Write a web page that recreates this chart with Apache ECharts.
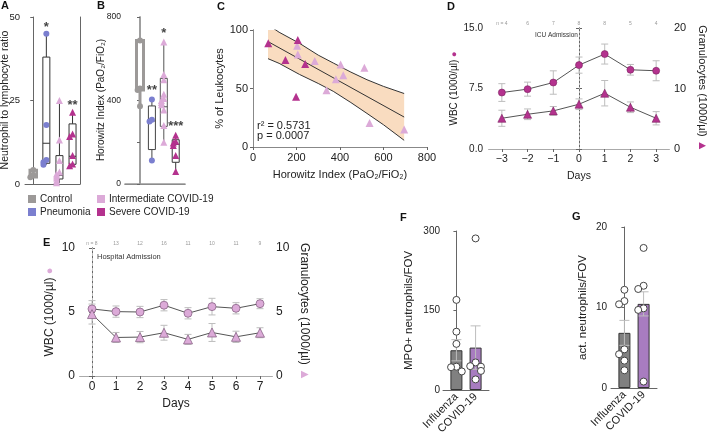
<!DOCTYPE html>
<html><head><meta charset="utf-8">
<script src="https://cdn.jsdelivr.net/npm/echarts@6/dist/echarts.min.js"></script>
<style>html,body{margin:0;padding:0;background:#fff}#c{width:709px;height:438px}</style>
</head><body><div id="c"></div>
<script>
// ================= DATA =================
const groupsAB = ['Control', 'Pneumonia', 'Intermediate COVID-19', 'Severe COVID-19'];
// Panel A: neutrophil to lymphocyte ratio
const nlrControl = [4.2, 2.7, 2.0];
const nlrPneumonia = [45, 17.7, 7.2, 6.5, 5.8];
const nlrIntermediate = [25, 13.2, 7, 3.6, 3.0, 2.4, 1.8, 1.0, 0.4];
const nlrSevere = [21.5, 15, 14.2, 8.5, 6, 5.5];
const nlrBoxes = [[2.0, 2.0, 2.7, 4.2, 4.2], [5.8, 6.2, 12.2, 38, 45], [0.4, 1.5, 2.6, 8.5, 25], [5.5, 5.9, 8.3, 18, 21.5]];
const nlrStars = ['', '*', '', '**'];
// Panel B: Horowitz index
const hiControl = [688, 458, 450, 373];
const hiPneumonia = [405, 308, 300, 112];
const hiIntermediate = [680, 525, 500, 430, 410, 400, 390, 380, 355, 280, 200];
const hiSevere = [233, 205, 196, 185, 137, 60];
const hiBoxes = [[373, 450, 460, 688, 688], [112, 165, 302, 374, 405], [200, 276, 370, 506, 680], [60, 104, 190, 212, 233]];
const hiStars = ['', '**', '*', '***'];
// Panel C: % of leukocytes vs Horowitz index
const cSevere = [[70, 88.6], [206, 91.4], [149, 74.3], [240, 70.9], [198, 42.9]];
const cIntermediate = [[203, 86.6], [206, 79.1], [284, 73.4], [403, 70.6], [512, 67.7], [415, 61.4], [381, 58], [338, 48.6], [536, 20.6], [695, 14.9]];
const cFitX = [69, 695];
const cFitY = [90.1, 25.6];
const cBandX = [69, 120, 214, 300, 369, 450, 524, 600, 695];
const cBandUpper = [104.5, 98.1, 88.6, 78.5, 71.8, 64, 57.5, 51.8, 45.7];
const cBandLower = [75.5, 71.5, 62, 54.3, 47.6, 38, 28.7, 19, 5.7];
const cStats = ['r\u00b2 = 0.5731', 'p = 0.0007'];
// Panel D: ICU admission
const dDays = [-3, -2, -1, 0, 1, 2, 3];
const dWBC = [7.0, 7.42, 8.24, 10.4, 11.77, 9.82, 9.7];
const dWBCerr = [1.1, 0.87, 1.45, 1.0, 1.24, 0.66, 1.24];
const dGran = [5.08, 5.74, 6.3, 7.4, 9.22, 6.9, 5.08];
const dGranErr = [1.33, 0.88, 0.72, 0.88, 2.1, 0.88, 1.1];
const dN = ['n = 4', '6', '7', '8', '8', '5', '4'];
// Panel E: hospital admission
const eDays = [0, 1, 2, 3, 4, 5, 6, 7];
const eWBC = [5.24, 5.03, 5.0, 5.53, 4.9, 5.42, 5.29, 5.65];
const eWBCerr = [0.65, 0.44, 0.44, 0.44, 0.44, 0.65, 0.44, 0.39];
const eGran = [4.84, 3.01, 3.04, 3.38, 2.86, 3.4, 3.06, 3.38];
const eGranErr = [0.78, 0.39, 0.44, 0.58, 0.39, 0.7, 0.44, 0.39];
const eN = ['n = 8', '13', '12', '16', '11', '10', '11', '9'];
// Panels F, G
const fgGroups = ['Influenza', 'COVID-19'];
const fMeans = [75, 80];
const fSem = [20, 41];
const fInfluenza = [170, 110, 87, 44, 43, 35];
const fCovid = [286, 52, 45, 44, 36, 20];
const gMeans = [6.85, 10.45];
const gSem = [1.55, 1.5];
const gInfluenza = [12.2, 10.8, 10.4, 4.8, 4.2, 3.4, 2.2];
const gCovid = [17.4, 12.7, 12.3, 9.9, 9.7, 0.8];

// ================= STYLE =================
const FONT = "'Liberation Sans', Arial, Helvetica, sans-serif";
const C_CTRL = '#9c9998', C_PNEU = '#7b7fcf', C_INT = '#dcaad8', C_SEV = '#b4328e';
const C_FLU = '#808080', C_COV = '#a87cc0';
const AX = '#666', TX = '#222', ERR = '#bdbdbd';
const groupColors = [C_CTRL, C_PNEU, C_INT, C_SEV];
const A_XMIN = -0.63, A_XMAX = 3.57, B_XMIN = -1.26, B_XMAX = 3.78;

function jitter(vals, thr, step) {
  const pat = [0, -1, 1, -2, 2, -3, 3];
  return vals.map((v, i) => {
    let k = 0;
    for (let j = 0; j < i; j++) if (Math.abs(vals[j] - v) < thr) k++;
    return pat[k % pat.length] * step;
  });
}
function pointSeries(xi, yi, gi, vals, symbol, color, size, thr, step, border) {
  const off = jitter(vals, thr, step);
  return {
    type: 'scatter', xAxisIndex: xi, yAxisIndex: yi, z: 5, silent: true,
    symbol: symbol, symbolSize: size,
    itemStyle: { color: color, borderColor: border || color, borderWidth: border ? 1 : 0, opacity: 1 },
    data: vals.map((v, i) => [gi + off[i], v])
  };
}
function boxSeries(xi, yi, boxes, strokes, lws, w) {
  return {
    type: 'custom', xAxisIndex: xi, yAxisIndex: yi, z: 2, silent: true,
    data: boxes.map((b, i) => [i].concat(b)),
    renderItem: (p, api) => {
      const i = p.dataIndex, x = api.value(0);
      const pt = k => api.coord([x, api.value(k)]);
      const mn = pt(1), q1 = pt(2), md = pt(3), q3 = pt(4), mx = pt(5);
      const hw = w / 2, st = { stroke: strokes[i], lineWidth: lws[i], fill: null };
      return { type: 'group', children: [
        { type: 'line', shape: { x1: md[0], y1: mx[1], x2: md[0], y2: q3[1] }, style: st },
        { type: 'line', shape: { x1: md[0], y1: q1[1], x2: md[0], y2: mn[1] }, style: st },
        { type: 'rect', shape: { x: md[0] - hw, y: q3[1], width: 2 * hw, height: q1[1] - q3[1] }, style: Object.assign({}, st, { fill: '#fff' }) },
        { type: 'line', shape: { x1: md[0] - hw, y1: md[1], x2: md[0] + hw, y2: md[1] }, style: st }
      ] };
    }
  };
}
function starSeries(xi, yi, boxes, stars, dist) {
  const idx = stars.map((s, i) => i).filter(i => stars[i]);
  return {
    type: 'scatter', xAxisIndex: xi, yAxisIndex: yi, z: 6, silent: true, symbolSize: 0.1,
    itemStyle: { color: 'rgba(0,0,0,0)' },
    label: { show: true, position: 'top', distance: dist, formatter: p => stars[idx[p.dataIndex]], color: '#111', fontSize: 13, fontFamily: FONT, fontWeight: 'bold' },
    data: idx.map(i => [i, boxes[i][4]])
  };
}
function errSeries(xi, yi, xs, ys, es, color, cap, z) {
  return {
    type: 'custom', xAxisIndex: xi, yAxisIndex: yi, z: z || 3, silent: true,
    data: xs.map((x, i) => [x, ys[i], es[i]]),
    renderItem: (p, api) => {
      const x = api.value(0), y = api.value(1), e = api.value(2);
      const t = api.coord([x, y + e]), b = api.coord([x, y - e]);
      const st = { stroke: color, lineWidth: 1 };
      return { type: 'group', children: [
        { type: 'line', shape: { x1: t[0], y1: t[1], x2: b[0], y2: b[1] }, style: st },
        { type: 'line', shape: { x1: t[0] - cap, y1: t[1], x2: t[0] + cap, y2: t[1] }, style: st },
        { type: 'line', shape: { x1: b[0] - cap, y1: b[1], x2: b[0] + cap, y2: b[1] }, style: st }
      ] };
    }
  };
}
const lbl = (size, margin) => ({ color: TX, fontSize: size || 11, fontFamily: FONT, margin: margin == null ? 6 : margin });
const line = { show: true, lineStyle: { color: AX, width: 1 } };
const tick = { show: true, length: 3, lineStyle: { color: AX } };
function frameAxis(extra) {
  return Object.assign({ type: 'value', axisLine: line, axisTick: { show: false }, axisLabel: { show: false }, splitLine: { show: false } }, extra);
}
function nameStyle(size) { return { color: TX, fontSize: size, fontFamily: FONT }; }

// ================= GRIDS =================
const grid = [
  { left: 25, top: 17, width: 55, height: 167 },   // A
  { left: 125, top: 17, width: 60, height: 167 },  // B
  { left: 253, top: 30, width: 174, height: 117 }, // C
  { left: 489, top: 28, width: 181, height: 121 }, // D
  { left: 80, top: 248, width: 192, height: 128 }, // E
  { left: 443, top: 231, width: 46, height: 159 }, // F
  { left: 611, top: 227, width: 46, height: 161 }  // G
];

const xAxis = [
  frameAxis({ gridIndex: 0, min: A_XMIN, max: A_XMAX }),                               // 0 A
  frameAxis({ gridIndex: 1, min: B_XMIN, max: B_XMAX }),                               // 1 B
  { type: 'value', gridIndex: 2, min: 0, max: 800, interval: 200, axisLine: line, axisTick: tick, axisLabel: lbl(11, 5), splitLine: { show: false },
    name: 'Horowitz Index (PaO\u2082/FiO\u2082)', nameLocation: 'middle', nameGap: 22, nameTextStyle: nameStyle(11) }, // 2 C
  { type: 'value', gridIndex: 3, min: -3.5, max: 3.5, axisLine: line,
    axisTick: Object.assign({}, tick, { customValues: dDays }),
    axisLabel: Object.assign(lbl(10.5, 5), { customValues: dDays, formatter: v => (v < 0 ? '\u2212' + (-v) : '' + v) }),
    splitLine: { show: false }, name: 'Days', nameLocation: 'middle', nameGap: 22, nameTextStyle: nameStyle(10.5) }, // 3 D
  frameAxis({ gridIndex: 3, position: 'top', min: -3.5, max: 3.5, axisLine: { show: true, lineStyle: { color: '#aaa' } },
    axisLabel: { show: true, customValues: dDays, formatter: v => dN[dDays.indexOf(Math.round(v))], fontSize: 5, color: '#999', margin: 2, fontFamily: FONT } }), // 4 D top
  { type: 'value', gridIndex: 4, min: -0.5, max: 7.5, axisLine: line,
    axisTick: Object.assign({}, tick, { customValues: eDays }),
    axisLabel: Object.assign(lbl(12, 5), { customValues: eDays }),
    splitLine: { show: false }, name: 'Days', nameLocation: 'middle', nameGap: 22, nameTextStyle: nameStyle(12) }, // 5 E
  frameAxis({ gridIndex: 4, position: 'top', min: -0.5, max: 7.5, axisLine: { show: true, lineStyle: { color: '#aaa' } },
    axisLabel: { show: true, customValues: eDays, formatter: v => eN[eDays.indexOf(Math.round(v))], fontSize: 5, color: '#999', margin: 2, fontFamily: FONT } }), // 6 E top
  frameAxis({ gridIndex: 5, min: -0.7, max: 1.7, axisLabel: Object.assign(lbl(11, 5), { show: true, customValues: [0, 1], rotate: 45, formatter: v => fgGroups[Math.round(v)] }) }), // 7 F
  frameAxis({ gridIndex: 6, min: -0.7, max: 1.7, axisLabel: Object.assign(lbl(11, 5), { show: true, customValues: [0, 1], rotate: 45, formatter: v => fgGroups[Math.round(v)] }) }), // 8 G
  frameAxis({ gridIndex: 2, position: 'top', min: 0, max: 800, axisLine: { show: true, lineStyle: { color: '#888' } } }), // 9 C top
  frameAxis({ gridIndex: 1, position: 'top', min: B_XMIN, max: B_XMAX, axisLine: { show: true, lineStyle: { color: '#999', width: 1.5 } } }) // 10 B top
];

const yAxis = [
  { type: 'value', gridIndex: 0, min: 0, max: 50, interval: 25, axisLine: line, axisTick: tick,
    axisLabel: Object.assign(lbl(9.5, 5), { showMinLabel: true, showMaxLabel: true, hideOverlap: false }), splitLine: { show: false } }, // 0
  frameAxis({ gridIndex: 0, position: 'right', min: 0, max: 50 }), // 1
  { type: 'value', gridIndex: 1, min: 0, max: 800, interval: 400, axisLine: { show: true, lineStyle: { color: '#999', width: 1.5 } }, axisTick: tick,
    minorTick: { show: true, splitNumber: 2, length: 3, lineStyle: { color: AX } },
    axisLabel: Object.assign(lbl(8.5, 4), { showMinLabel: true, showMaxLabel: true, hideOverlap: false }), splitLine: { show: false } }, // 2
  frameAxis({ gridIndex: 1, position: 'right', min: 0, max: 800, axisLine: { show: true, lineStyle: { color: '#999', width: 1.5 } } }), // 3
  { type: 'value', gridIndex: 2, min: 0, max: 100, interval: 50, axisLine: line, axisTick: tick, axisLabel: lbl(11, 5), splitLine: { show: false },
    name: '% of Leukocytes', nameLocation: 'middle', nameGap: 27, nameTextStyle: nameStyle(11) }, // 4
  frameAxis({ gridIndex: 2, position: 'right', min: 0, max: 100, axisLine: { show: true, lineStyle: { color: '#888' } } }), // 5
  { type: 'value', gridIndex: 3, min: 0, max: 15, interval: 7.5, axisLine: line, axisTick: tick,
    axisLabel: Object.assign(lbl(10, 6), { formatter: v => v.toFixed(1) }), splitLine: { show: false },
    name: '{a|WBC (1000/\u00b5l)} {m|\u25cf}', nameLocation: 'middle', nameGap: 26, nameRotate: 90,
    nameTextStyle: { color: TX, fontSize: 10, fontFamily: FONT, rich: { a: { fontSize: 10, fontFamily: FONT, color: TX }, m: { fontSize: 9, color: C_SEV } } } }, // 6
  { type: 'value', gridIndex: 3, position: 'right', min: 0, max: 20, interval: 10, axisLine: line, axisTick: tick, axisLabel: lbl(11, 5), splitLine: { show: false },
    name: '{a|Granulocytes (1000/\u00b5l)} {m|\u25b2}', nameLocation: 'middle', nameGap: 27, nameRotate: -90,
    nameTextStyle: { color: TX, fontSize: 11, fontFamily: FONT, rich: { a: { fontSize: 11, fontFamily: FONT, color: TX }, m: { fontSize: 12, color: C_SEV } } } }, // 7
  { type: 'value', gridIndex: 4, min: 0, max: 10, interval: 5, axisLine: line, axisTick: tick, axisLabel: lbl(12, 5), splitLine: { show: false },
    name: '{a|WBC (1000/\u00b5l)} {m|\u25cf}', nameLocation: 'middle', nameGap: 24, nameRotate: 90,
    nameTextStyle: { color: TX, fontSize: 12, fontFamily: FONT, rich: { a: { fontSize: 12, fontFamily: FONT, color: TX }, m: { fontSize: 11, color: C_INT } } } }, // 8
  { type: 'value', gridIndex: 4, position: 'right', min: 0, max: 10, interval: 5, axisLine: line, axisTick: tick, axisLabel: lbl(12, 4), splitLine: { show: false },
    name: '{a|Granulocytes (1000/\u00b5l)} {m|\u25b2}', nameLocation: 'middle', nameGap: 26, nameRotate: -90,
    nameTextStyle: { color: TX, fontSize: 12, fontFamily: FONT, rich: { a: { fontSize: 12, fontFamily: FONT, color: TX }, m: { fontSize: 13, color: C_INT } } } }, // 9
  { type: 'value', gridIndex: 5, min: 0, max: 300, interval: 150, axisLine: line, axisTick: tick, axisLabel: lbl(10, 3), splitLine: { show: false },
    name: 'MPO+ neutrophils/FOV', nameLocation: 'middle', nameGap: 28, nameTextStyle: nameStyle(11.5) }, // 10
  { type: 'value', gridIndex: 6, min: 0, max: 20, interval: 10, axisLine: line, axisTick: tick, axisLabel: lbl(10, 4), splitLine: { show: false },
    name: 'act. neutrophils/FOV', nameLocation: 'middle', nameGap: 22, nameTextStyle: nameStyle(11.5) } // 11
];

// ================= SERIES =================
const series = [];
// A
series.push(boxSeries(0, 0, nlrBoxes, [C_CTRL, '#333', '#333', '#333'], [2.5, 1, 1, 1], 7));
[nlrControl, nlrPneumonia, nlrIntermediate, nlrSevere].forEach((vals, gi) => {
  series.push(pointSeries(0, 0, gi, vals, gi < 2 ? 'circle' : 'triangle', groupColors[gi], gi < 2 ? 6 : 7, 1.2, 0.22));
});
series.push(starSeries(0, 0, nlrBoxes, nlrStars, 0));
// B
series.push(boxSeries(1, 2, hiBoxes, [C_CTRL, '#444', '#555', '#333'], [3, 1, 1, 1], 7));
[hiControl, hiPneumonia, hiIntermediate, hiSevere].forEach((vals, gi) => {
  series.push(pointSeries(1, 2, gi, vals, gi < 2 ? 'circle' : 'triangle', groupColors[gi], gi < 2 ? 6 : 7, 16, 0.2));
});
series.push(starSeries(1, 2, hiBoxes, hiStars, 2));
// C confidence band (polygon through the read band points), clipped to the grid
series.push({ type: 'custom', xAxisIndex: 2, yAxisIndex: 4, clip: true, silent: true, z: 1,
  data: cBandX.map((x, i) => [x, cBandLower[i], cBandUpper[i]]),
  renderItem: (p, api) => {
    if (p.dataIndex !== 0) return null;
    const up = [], lo = [];
    for (let i = 0; i < p.dataInsideLength; i++) {
      up.push(api.coord([api.value(0, i), api.value(2, i)]));
      lo.push(api.coord([api.value(0, i), api.value(1, i)]));
    }
    return { type: 'polygon', shape: { points: up.concat(lo.reverse()) }, style: { fill: '#f9dcc0', stroke: null } };
  } });
[cBandUpper, cBandLower].forEach(arr => series.push({ type: 'line', xAxisIndex: 2, yAxisIndex: 4, symbol: 'none', silent: true,
  lineStyle: { color: '#333', width: 1 }, data: cBandX.map((x, i) => [x, arr[i]]), z: 2 }));
series.push({ type: 'line', xAxisIndex: 2, yAxisIndex: 4, symbol: 'none', silent: true, lineStyle: { color: '#333', width: 1 },
  data: cFitX.map((x, i) => [x, cFitY[i]]), z: 2 });
series.push({ type: 'scatter', xAxisIndex: 2, yAxisIndex: 4, symbol: 'triangle', symbolSize: 8, itemStyle: { color: C_INT, opacity: 1 }, data: cIntermediate, z: 4, silent: true });
series.push({ type: 'scatter', xAxisIndex: 2, yAxisIndex: 4, symbol: 'triangle', symbolSize: 8, itemStyle: { color: C_SEV, opacity: 1 }, data: cSevere, z: 4, silent: true });
// D
series.push(errSeries(3, 6, dDays, dWBC, dWBCerr, ERR, 3.5));
series.push(errSeries(3, 7, dDays, dGran, dGranErr, ERR, 3.5));
series.push({ type: 'line', xAxisIndex: 3, yAxisIndex: 6, symbol: 'circle', symbolSize: 7, silent: true,
  lineStyle: { color: '#555', width: 1 }, itemStyle: { color: C_SEV, borderColor: '#7a2060', borderWidth: 0.6 },
  data: dDays.map((d, i) => [d, dWBC[i]]), z: 5,
  markLine: { silent: true, symbol: 'none', lineStyle: { color: '#bbb', type: [2, 2], width: 1 }, label: { show: false }, data: [{ xAxis: 0 }] } });
series.push({ type: 'line', xAxisIndex: 3, yAxisIndex: 7, symbol: 'triangle', symbolSize: 8, silent: true,
  lineStyle: { color: '#555', width: 1 }, itemStyle: { color: C_SEV, borderColor: '#7a2060', borderWidth: 0.6 },
  data: dDays.map((d, i) => [d, dGran[i]]), z: 5 });
// E
series.push(errSeries(5, 8, eDays, eWBC, eWBCerr, ERR, 3.5));
series.push(errSeries(5, 9, eDays, eGran, eGranErr, ERR, 3.5));
series.push({ type: 'line', xAxisIndex: 5, yAxisIndex: 8, symbol: 'circle', symbolSize: 8, silent: true,
  lineStyle: { color: '#555', width: 1 }, itemStyle: { color: C_INT, borderColor: '#8a6488', borderWidth: 0.8 },
  data: eDays.map((d, i) => [d, eWBC[i]]), z: 5,
  markLine: { silent: true, symbol: 'none', lineStyle: { color: '#bbb', type: [3, 2], width: 1 }, label: { show: false }, data: [{ xAxis: 0 }] } });
series.push({ type: 'line', xAxisIndex: 5, yAxisIndex: 9, symbol: 'triangle', symbolSize: 9, silent: true,
  lineStyle: { color: '#555', width: 1 }, itemStyle: { color: C_INT, borderColor: '#8a6488', borderWidth: 0.8 },
  data: eDays.map((d, i) => [d, eGran[i]]), z: 5 });
// F, G
function barPanel(xi, yi, means, sems, groupsVals, thr, step) {
  series.push({ type: 'bar', xAxisIndex: xi, yAxisIndex: yi, barWidth: 12, silent: true, z: 2,
    data: means.map((m, i) => ({ value: [i, m], itemStyle: { color: i === 0 ? C_FLU : C_COV, borderColor: '#333', borderWidth: 1 } })) });
  series.push(errSeries(xi, yi, [0, 1], means, sems, ERR, 5, 3));
  groupsVals.forEach((vals, gi) => series.push(pointSeries(xi, yi, gi, vals, 'circle', '#fff', 7, thr, step, '#444')));
}
barPanel(7, 10, fMeans, fSem, [fInfluenza, fCovid], 12, 0.28);
barPanel(8, 11, gMeans, gSem, [gInfluenza, gCovid], 0.8, 0.28);

// ================= GRAPHIC TEXT =================
const graphic = [];
const letters = [['A', 1, 0], ['B', 97, 0], ['C', 217, 1], ['D', 447, 1], ['E', 43, 237], ['F', 400, 212], ['G', 572, 211]];
letters.forEach(([t, x, y]) => graphic.push({ type: 'text', left: x, top: y, style: { text: t, font: 'bold 11px ' + FONT, fill: '#111' } }));
// y-axis titles of A and B, kept clear of the tick labels
graphic.push({ type: 'text', x: 5, y: 100, rotation: Math.PI / 2, style: { text: 'Neutrophil to lymphocyte ratio', font: '10.5px ' + FONT, fill: TX, align: 'center', verticalAlign: 'middle' } });
graphic.push({ type: 'text', x: 101, y: 100, rotation: Math.PI / 2, style: { text: 'Horowitz Index (PaO\u2082/FiO\u2082)', font: '10px ' + FONT, fill: TX, align: 'center', verticalAlign: 'middle' } });
groupsAB.forEach((g, i) => {
  const col = i < 2 ? 0 : 1, row = i % 2;
  const x = col === 0 ? 28 : 97, y = 195 + row * 13;
  graphic.push({ type: 'rect', left: x, top: y, shape: { width: 8, height: 8 }, style: { fill: groupColors[i] } });
  graphic.push({ type: 'text', left: x + 12, top: y - 1, style: { text: g, font: '10px ' + FONT, fill: TX } });
});
cStats.forEach((s, i) => graphic.push({ type: 'text', left: 257, top: 120 + i * 10, style: { text: s, font: '11px ' + FONT, fill: TX } }));
graphic.push({ type: 'text', left: 535, top: 32, style: { text: 'ICU Admission', font: '6.5px ' + FONT, fill: '#333' } });
graphic.push({ type: 'text', left: 97, top: 253, style: { text: 'Hospital Admission', font: '7.5px ' + FONT, fill: '#333' } });

const chart = echarts.init(document.getElementById('c'), null, { renderer: 'canvas' });
chart.setOption({ animation: false, backgroundColor: '#fff', textStyle: { fontFamily: FONT }, grid, xAxis, yAxis, series, graphic });
</script></body></html>
